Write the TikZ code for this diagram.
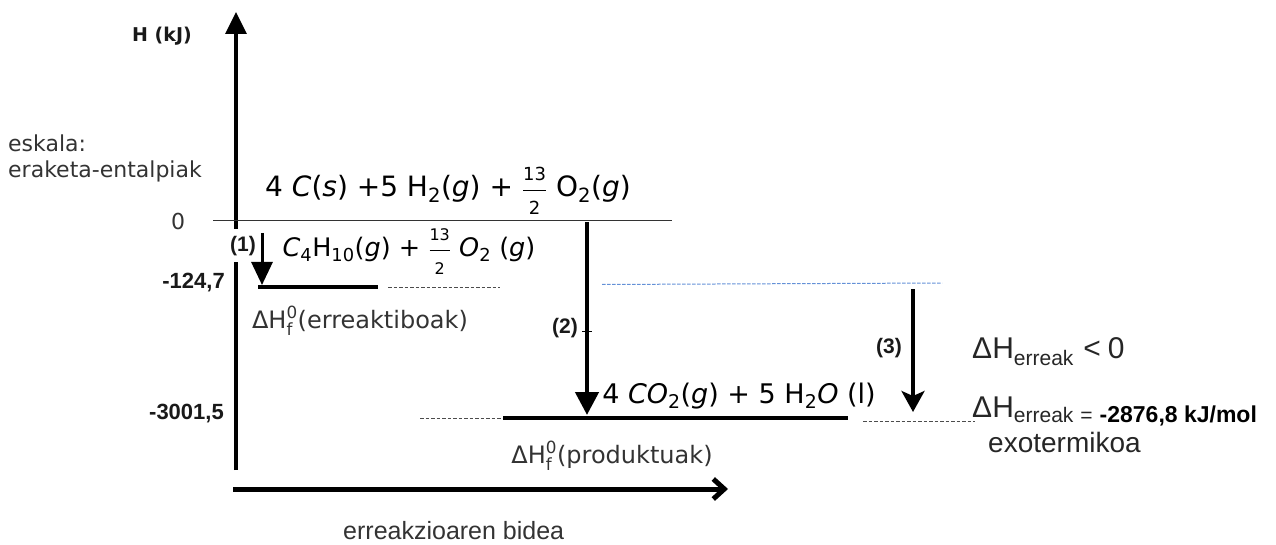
\documentclass[tikz,border=0pt]{standalone}
\usepackage{amsmath}
\usepackage{fontspec}
\setmainfont{DejaVu Sans}
\newfontfamily\arial{Liberation Sans}
\usetikzlibrary{arrows.meta}
\newcommand{\fsz}[1]{\fontsize{#1}{#1}\selectfont}
\newcommand{\fr}[3]{\ensuremath{\dfrac{\text{\fsz{#1}#2}}{\text{\fsz{#1}#3}}}}
\newcommand{\sbt}[1]{\ensuremath{_{\text{#1}}}}
\newcommand{\dhf}{ΔH\ensuremath{^{\text{0}}_{\text{f}}}}
\begin{document}
\begin{tikzpicture}[x=1pt,y=-1pt,
  txt/.style={inner sep=0pt, text=black!80},
  eq/.style={inner sep=0pt, text=black, font=\fsz{28}},
  num/.style={inner sep=0pt, font=\arial\bfseries\fsz{22}, text=black!90},
  tag/.style={inner sep=0pt, font=\arial\bfseries\fsz{21}, text=black!90},
  levelline/.style={line width=4.5pt, black},
  dashline/.style={line width=0.8pt, black!70, dash pattern=on 3.5pt off 2pt},
  blueline/.style={line width=1pt, color={rgb,255:red,100;green,145;blue,215}, dash pattern=on 3.5pt off 1.5pt},
  axisline/.style={line width=3.5pt, black},
]
\useasboundingbox (0,0) rectangle (1276,545);

% axes
\coordinate (yb) at (236,470);
\coordinate (yt) at (236,12);
\coordinate (xl) at (233,489);
\coordinate (xr) at (728,489);
\draw[axisline, -{Triangle[length=22pt,width=21pt]}] (yb) -- (yt);
\draw[line width=5pt, -{Straight Barb[length=11pt,width=20pt]}] (xl) -- (xr);

% zero line
\coordinate (z0l) at (213,220.5);
\coordinate (z0r) at (672,220.5);
\draw[line width=1.2pt, black!80] (z0l) -- (z0r);

% labels on axes
\node[inner sep=0pt, font=\bfseries\fsz{19}, text=black!90] (hkj) at (162,36) {H (kJ)};
\node[txt, font=\fsz{22}, anchor=base west] (esk) at (8,152) {eskala:};
\node[txt, font=\fsz{22}, anchor=base west] (era) at (8,178) {eraketa-entalpiak};
\node[txt, font=\fsz{22}] (zero) at (178,221) {0};
\node[num, anchor=east] (n1) at (225,283) {-124,7};
\node[num, anchor=east] (n2) at (224,414) {-3001,5};
\node[txt, font=\arial\fsz{25}, anchor=base west] (bidea) at (343,539) {erreakzioaren bidea};

% step (1)
\node[tag, fill=white, minimum height=33pt, inner xsep=1pt] (t1) at (243,246) {(1)};
\coordinate (a1s) at (262,233);
\coordinate (a1e) at (262,285);
\draw[line width=3pt, -{Triangle[length=23pt,width=21pt]}] (a1s) -- (a1e);

% reactant level
\coordinate (r1) at (258,287);
\coordinate (r2) at (378,287);
\coordinate (r3) at (388,287);
\coordinate (r4) at (500,287);
\draw[levelline] (r1) -- (r2);
\draw[dashline] (r3) -- (r4);

% equations
\node[eq, anchor=base] (eq1) at (448,197) {4 \textit{C}(\textit{s}) +5 H\sbt{2}(\textit{g}) + \fr{18}{13}{2} O\sbt{2}(\textit{g})};
\node[eq, font=\fsz{25.5}, anchor=base] (eq2) at (409,257) {\textit{C}\sbt{4}H\sbt{10}(\textit{g}) + \fr{16}{13}{2} \textit{O}\sbt{2} (\textit{g})};
\node[txt, font=\fsz{24}, anchor=base] (dhr) at (360,328) {\dhf(erreaktiboak)};

% step (2)
\coordinate (a2s) at (587,222);
\coordinate (a2e) at (587,415);
\draw[line width=4.5pt, -{Triangle[length=23pt,width=23pt]}] (a2s) -- (a2e);
\node[tag] (t2) at (565,328) {(2)};
\coordinate (tk1) at (582,331);
\coordinate (tk2) at (592,331);
\draw[line width=1pt] (tk1) -- (tk2);

% blue dashed
\coordinate (b1) at (602,284.5);
\coordinate (b2) at (942,283);
\draw[blueline] (b1) -- (b2);

% product level
\coordinate (p1) at (503,418);
\coordinate (p2) at (848,418);
\coordinate (p0) at (420,418);
\coordinate (p3) at (863,421);
\coordinate (p4) at (975,421);
\draw[dashline] (p0) -- (p1);
\draw[levelline] (p1) -- (p2);
\draw[dashline] (p3) -- (p4);
\node[eq, font=\fsz{27}, anchor=base] (eq3) at (739,403) {4 \textit{CO}\sbt{2}(\textit{g}) + 5 H\sbt{2}\textit{O} (l)};
\node[txt, font=\fsz{24}, anchor=base] (dhp) at (612,463) {\dhf(produktuak)};

% step (3)
\coordinate (a3s) at (913,289);
\coordinate (a3e) at (913,412);
\draw[line width=3.5pt, -{Stealth[length=21pt,width=23pt,inset=5pt]}] (a3s) -- (a3e);
\node[tag] (t3) at (889,348) {(3)};

% right texts
\node[inner sep=0pt, font=\arial\fsz{30}, text=black!85, anchor=base west] (lt0) at (972,358)
  {ΔH\raisebox{-7pt}{\fsz{21}erreak}\hspace{10pt}<\hspace{7pt}0};
\node[inner sep=0pt, font=\arial\fsz{30}, text=black!85, anchor=base west] (eqv) at (972,417)
  {ΔH\raisebox{-5pt}{\fsz{21}erreak\hspace{7pt}=\hspace{7pt}{\fsz{23}\bfseries\color{black}-2876,8 kJ/mol}}};
\node[inner sep=0pt, font=\arial\fsz{28}, text=black!85, anchor=base west] (exo) at (988,452) {exotermikoa};
\end{tikzpicture}
\end{document}
